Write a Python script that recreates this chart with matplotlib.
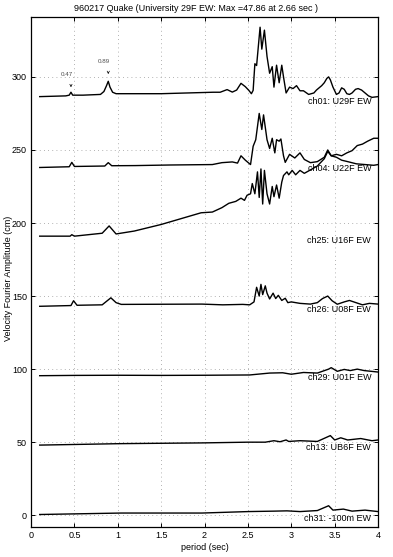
"Spettri di Fourier - 960217 Quake"
import matplotlib
matplotlib.use("Agg")
import matplotlib.pyplot as plt

plt.rcParams['font.family'] = ['Liberation Sans', 'DejaVu Sans']


#%%  DATI
# ch01: U29F EW
ch01_t = [0.10, 0.40, 0.44, 0.46, 0.48, 0.60, 0.80, 0.84, 0.87, 0.89, 0.91, 0.94, 0.98,
          1.20, 1.50, 1.80, 2.10, 2.18, 2.26, 2.32, 2.37, 2.42, 2.47, 2.51, 2.54, 2.56,
          2.58, 2.60, 2.64, 2.66, 2.69, 2.72, 2.75, 2.78, 2.80, 2.83, 2.86, 2.89, 2.91,
          2.94, 2.98, 3.02, 3.06, 3.10, 3.14, 3.20, 3.26, 3.29, 3.32, 3.35, 3.38, 3.41,
          3.43, 3.45, 3.48, 3.52, 3.55, 3.58, 3.61, 3.64, 3.67, 3.70, 3.74, 3.77, 3.81,
          3.85, 3.89, 3.93, 4.00]
ch01_a = [286.5, 287, 287.5, 289.5, 287.5, 287.5, 288, 290, 294, 297, 293, 289.5, 288.5,
          288.5, 288.5, 289, 289.5, 289.5, 291.3, 289.6, 291, 295.6, 293.3, 290.8, 288.5, 290.8,
          309, 307.8, 334, 319, 332, 314, 302.5, 307, 293, 308, 296, 308, 300,
          289, 293, 292, 294, 290.5, 290.5, 288, 289, 291, 292.5, 294, 296, 299,
          300, 298, 293, 288, 289, 292.5, 291.5, 288.5, 288, 289, 291.5, 292, 291,
          289, 287, 286, 286.5]

# ch04: U22F EW
ch04_t = [0.10, 0.44, 0.47, 0.50, 0.85, 0.89, 0.93, 1.20, 1.60, 2.09, 2.20, 2.32, 2.38,
          2.42, 2.47, 2.53, 2.56, 2.59, 2.63, 2.66, 2.68, 2.72, 2.75, 2.78, 2.81, 2.83,
          2.86, 2.88, 2.91, 2.93, 2.98, 3.04, 3.10, 3.15, 3.22, 3.30, 3.38, 3.42, 3.46,
          3.52, 3.58, 3.65, 3.75, 3.85, 3.95, 4.00]
ch04_a = [238, 238.5, 241.5, 238.7, 239, 241.3, 239.2, 239.3, 239.7, 240, 241.3, 241.8, 241,
          246, 243, 240, 252.5, 257, 275, 264, 274, 257, 251, 258, 248, 257,
          256, 257.5, 246, 241.5, 247, 244.5, 248, 243.5, 241.3, 242, 245, 250, 246,
          245, 243, 242, 240.5, 240, 239.5, 240]

# ch25: U16F EW
ch25_t = [0.10, 0.45, 0.47, 0.50, 0.82, 0.90, 0.98, 1.19, 1.50, 1.73, 1.96, 2.09, 2.20,
          2.28, 2.36, 2.42, 2.46, 2.49, 2.53, 2.55, 2.58, 2.61, 2.63, 2.65, 2.67, 2.69,
          2.72, 2.75, 2.78, 2.80, 2.83, 2.86, 2.89, 2.91, 2.95, 2.97, 3.01, 3.05, 3.10,
          3.15, 3.21, 3.30, 3.38, 3.42, 3.46, 3.52, 3.58, 3.64, 3.70, 3.76, 3.82, 3.88,
          3.95, 4.00]
ch25_a = [191, 191, 192, 191, 193, 198, 192.5, 194.5, 199, 203, 207, 207.5, 210.5,
          213.5, 214.8, 217, 215.5, 219, 220, 227, 220, 235, 217.5, 237, 213, 236,
          220, 213, 225, 218, 226, 217, 228, 232.5, 235, 233, 236, 233, 236,
          234, 236, 239, 244, 249, 246, 247, 246, 248, 249.5, 253, 254, 256,
          258, 258]

# ch26: U08F EW
ch26_t = [0.10, 0.46, 0.49, 0.53, 0.82, 0.92, 0.98, 1.04, 1.97, 2.21, 2.44, 2.52, 2.57,
          2.60, 2.63, 2.65, 2.67, 2.70, 2.72, 2.75, 2.79, 2.82, 2.85, 2.89, 2.93, 2.96,
          3.00, 3.10, 3.22, 3.30, 3.36, 3.42, 3.47, 3.53, 3.61, 3.67, 3.75, 3.82, 3.90,
          4.00]
ch26_a = [143, 143.5, 146.8, 143.7, 144, 148.8, 145.5, 144.3, 144.5, 144, 144.3, 144, 146,
          156, 150, 158, 151, 157, 152, 148, 152, 148.3, 150.5, 147, 148.5, 145.5,
          146, 145, 144.5, 145.5, 148.3, 150, 146.8, 144.4, 146, 147, 145.4, 144, 145,
          144.5]

# ch29: U01F EW
ch29_t = [0.10, 0.50, 1.00, 1.50, 2.00, 2.52, 2.75, 2.90, 3.00, 3.14, 3.30, 3.43, 3.46,
          3.53, 3.61, 3.68, 3.76, 3.84, 3.92, 4.00]
ch29_a = [95.5, 95.7, 95.8, 95.7, 95.8, 96, 97.3, 97.5, 96.5, 97.7, 97.3, 100, 101,
          98.5, 99.8, 99, 100, 99, 98.5, 98]

# ch13: UB6F EW
ch13_t = [0.10, 1.04, 1.97, 2.50, 2.70, 2.80, 2.87, 2.94, 2.97, 3.10, 3.30, 3.45, 3.50,
          3.57, 3.65, 3.80, 3.93, 4.00]
ch13_a = [48, 49, 49.5, 50, 50, 51, 50.3, 51.5, 50.5, 51, 50.5, 54.5, 51.5,
          53, 51.5, 52.5, 51, 51.5]

# ch31: -100m EW
ch31_t = [0.10, 1.04, 1.97, 2.50, 2.80, 2.95, 3.10, 3.30, 3.43, 3.48, 3.60, 3.70, 3.85, 4.00]
ch31_a = [0.5, 1.5, 1.5, 2.5, 2.8, 3, 2.5, 3.2, 6.5, 3.5, 4.2, 2.8, 3.5, 2.5]

tracce = [(ch01_t, ch01_a), (ch04_t, ch04_a), (ch25_t, ch25_a), (ch26_t, ch26_a),
          (ch29_t, ch29_a), (ch13_t, ch13_a), (ch31_t, ch31_a)]

etichette = ["ch01: U29F EW", "ch04: U22F EW", "ch25: U16F EW", "ch26: U08F EW",
             "ch29: U01F EW", "ch13: UB6F EW", "ch31: -100m EW"]
etich_y = [283, 237, 188, 141, 94, 46.5, -2]

x_ticks = [0, 0.5, 1, 1.5, 2, 2.5, 3, 3.5, 4]
x_ticklab = ["0", "0.5", "1", "1.5", "2", "2.5", "3", "3.5", "4"]
y_ticks = [0, 50, 100, 150, 200, 250, 300]

picchi_t = [0.46, 0.89]
picchi_lab = ["0.47", "0.89"]


#%% GRAFICO
fig = plt.figure(figsize=(3.93, 5.57), dpi=100)
ax = fig.add_axes([0.079, 0.054, 0.883, 0.9155])

for t, a in tracce:
    ax.plot(t, a, color='black', lw=1.0)

for lab, yy in zip(etichette, etich_y):
    ax.text(3.92, yy, lab, ha='right', va='center', fontsize=6.5)

# marcatori dei picchi
for tp, lab, y0 in zip(picchi_t, picchi_lab, [291, 300]):
    ax.annotate('', xy=(tp, y0), xytext=(tp, y0 + 5),
                arrowprops=dict(arrowstyle='->', lw=0.5, mutation_scale=4))
    ax.text(tp - 0.05, y0 + 9, lab, ha='center', va='bottom', fontsize=4.5, color='0.3')

ax.set_xlim(0, 4)
ax.set_ylim(-8, 341)
ax.set_xticks(x_ticks)
ax.set_xticklabels(x_ticklab)
ax.set_yticks(y_ticks)
ax.tick_params(direction='in', top=True, right=True, labelsize=6.5, length=3, width=0.7, pad=3)
ax.grid(True, linestyle=(0, (1, 4)), color='0.6', lw=0.6)
for s in ax.spines.values():
    s.set_linewidth(0.9)

ax.set_xlabel("period (sec)", fontsize=6.5, labelpad=2)
fig.text(0.022, 0.5, "Velocity Fourier Amplitude (cm)", rotation=90,
         ha='center', va='center', fontsize=6.5)
fig.text(0.5, 0.985, "960217 Quake (University 29F EW: Max =47.86 at 2.66 sec )",
         ha='center', va='center', fontsize=6.5)

fig.savefig("out.png", dpi=100)
